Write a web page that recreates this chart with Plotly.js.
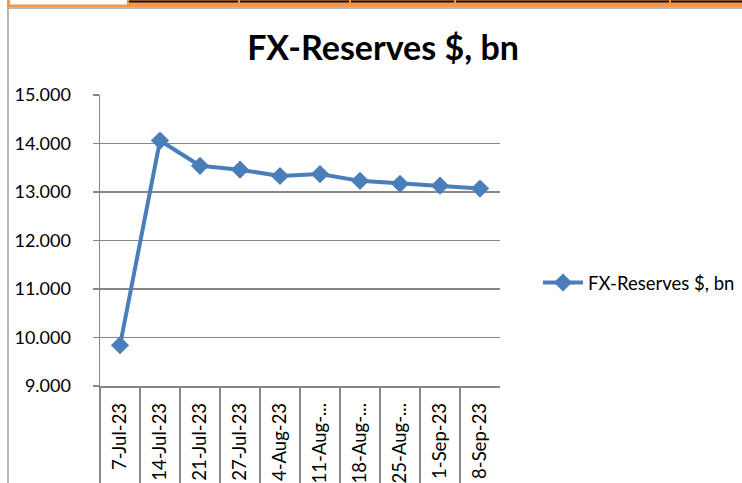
<!DOCTYPE html>
<html><head><meta charset="utf-8">
<script src="https://cdn.plot.ly/plotly-3.0.1.min.js"></script>
<style>html,body{margin:0;padding:0;background:#fff;}#chart{width:742px;height:483px;}</style>
</head><body><div id="chart"></div>
<script>
const categories = ["7-Jul-23","14-Jul-23","21-Jul-23","27-Jul-23","4-Aug-23","11-Aug-...","18-Aug-...","25-Aug-...","1-Sep-23","8-Sep-23"];
const reserves = [9.84, 14.06, 13.54, 13.46, 13.33, 13.37, 13.23, 13.17, 13.13, 13.07];
const yTicks = [9, 10, 11, 12, 13, 14, 15];
const yTickLabels = ["9.000","10.000","11.000","12.000","13.000","14.000","15.000"];
const seriesName = "FX-Reserves $, bn";

const W = 742, H = 483;
const px = v => v / W, py = v => 1 - v / H;
const font = "Lato, 'Open Sans', sans-serif";
const blue = "#4A7EBB";

const trace = {
  x: categories, y: reserves, type: "scatter", mode: "lines+markers", name: seriesName,
  line: {color: blue, width: 4},
  marker: {symbol: "diamond", size: 14, color: blue}
};

const shapes = [
  {type:"rect", xref:"paper", yref:"paper", x0:px(7), x1:1, y0:py(7), y1:1, fillcolor:"#F79646", line:{width:0}, layer:"below"},
  {type:"rect", xref:"paper", yref:"paper", x0:px(10), x1:px(127), y0:py(4.5), y1:1, fillcolor:"#ffffff", line:{width:0}, layer:"below"},
  {type:"rect", xref:"paper", yref:"paper", x0:px(129), x1:1, y0:py(2.5), y1:py(0.5), fillcolor:"#111111", line:{width:0}, layer:"below"},
  {type:"line", xref:"paper", yref:"paper", x0:px(7), x1:1, y0:py(8), y1:py(8), line:{color:"#A0A0A0", width:1.5}},
  {type:"line", xref:"paper", yref:"paper", x0:px(8), x1:px(8), y0:py(8), y1:0, line:{color:"#A0A0A0", width:1.5}}
];
[239, 350, 455, 670].forEach(x => shapes.push({type:"line", xref:"paper", yref:"paper", x0:px(x), x1:px(x), y0:py(3), y1:1, line:{color:"#F79646", width:2}}));

const layout = {
  width: W, height: H,
  margin: {l:0, r:0, t:0, b:0},
  paper_bgcolor: "#fff", plot_bgcolor: "#fff",
  showlegend: true,
  title: {text: "<b>FX-Reserves $, bn</b>", font: {family: font, size: 34, color: "#000"}, x: 383/W, xanchor: "center", y: py(48), yanchor: "middle"},
  xaxis: {
    domain: [px(100), px(500)], type: "category", range: [-0.5, categories.length - 0.5],
    showgrid: false, showline: true, linecolor: "#868686", linewidth: 1.5,
    ticks: "outside", tickson: "boundaries", ticklen: 97, tickcolor: "#868686", tickwidth: 1.5,
    ticklabelstandoff: 8,
    tickangle: -90, tickfont: {family: font, size: 18.5, color: "#000"}, fixedrange: true
  },
  yaxis: {
    domain: [py(386), py(95)], range: [9, 15],
    tickvals: yTicks, ticktext: yTickLabels,
    showgrid: true, gridcolor: "#868686", gridwidth: 1.5,
    showline: true, linecolor: "#868686", linewidth: 1.5,
    ticks: "outside", ticklen: 6, tickcolor: "#868686", tickwidth: 1.5,
    ticklabelstandoff: 18,
    tickfont: {family: font, size: 18, color: "#000"}, zeroline: false
  },
  legend: {x: px(538), y: py(283), xanchor: "left", yanchor: "middle", itemwidth: 40, font: {family: font, size: 18.5, color: "#000"}, bgcolor: "rgba(0,0,0,0)"},
  shapes: shapes
};

Plotly.newPlot("chart", [trace], layout, {displayModeBar: false, staticPlot: true});
</script></body></html>
